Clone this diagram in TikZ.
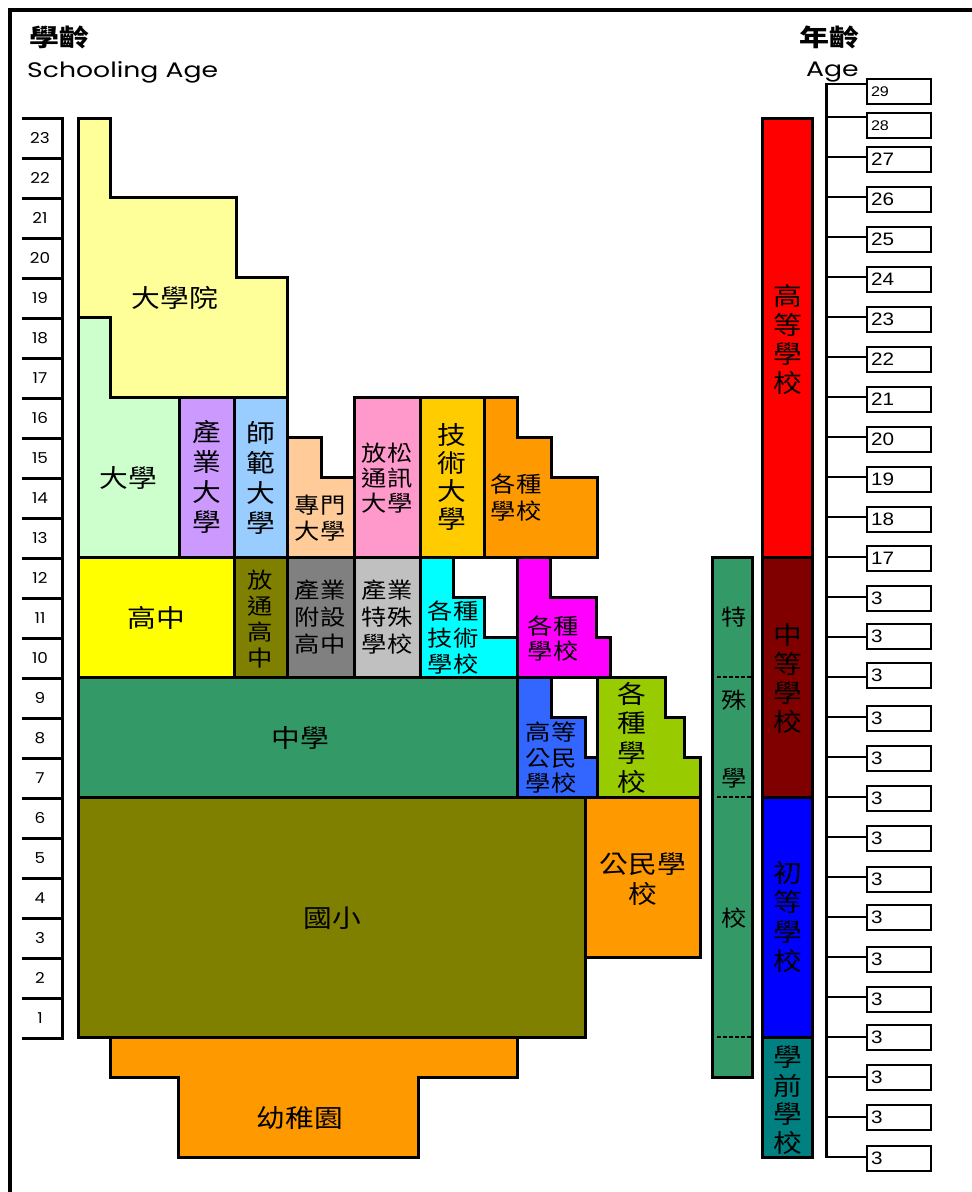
\documentclass[tikz,border=0pt]{standalone}
\usepackage{fontspec}
\setmainfont{Liberation Sans}
\newfontfamily\cjk[FakeStretch=1.15]{Noto Sans CJK TC}
\newfontfamily\cjkw[FakeStretch=1.25]{Noto Sans CJK TC}
\newfontfamily\pop[FakeStretch=1.12]{Poppins}
\newfontfamily\popw[FakeStretch=1.27]{Poppins}
\newfontfamily\ari[FakeStretch=1.15]{Liberation Sans}
\definecolor{cGrad}{HTML}{FFFF99}
\definecolor{cUni}{HTML}{CCFFCC}
\definecolor{cInd}{HTML}{CC99FF}
\definecolor{cNorm}{HTML}{99CCFF}
\definecolor{cPeach}{HTML}{FFCC99}
\definecolor{cPink}{HTML}{FF99CC}
\definecolor{cGold}{HTML}{FFCC00}
\definecolor{cOrange}{HTML}{FF9900}
\definecolor{cYellow}{HTML}{FFFF00}
\definecolor{cOlive}{HTML}{808000}
\definecolor{cGray}{HTML}{808080}
\definecolor{cSilver}{HTML}{C0C0C0}
\definecolor{cCyan}{HTML}{00FFFF}
\definecolor{cMag}{HTML}{FF00FF}
\definecolor{cSea}{HTML}{339966}
\definecolor{cRoyal}{HTML}{3366FF}
\definecolor{cLime}{HTML}{99CC00}
\definecolor{cRed}{HTML}{FF0000}
\definecolor{cMaroon}{HTML}{800000}
\definecolor{cBlue}{HTML}{0000FF}
\definecolor{cTeal}{HTML}{008080}
\tikzset{
  blk/.style={draw=black, line width=3pt, line join=miter},
  lbl/.style={font=\cjk\fontsize{25}{30}\selectfont, align=center, inner sep=0pt},
  lbls/.style={font=\cjk\fontsize{22}{26}\selectfont, align=center, inner sep=0pt},
  scl/.style={line width=3pt},
  lnum/.style={font=\pop\fontsize{15}{15}\selectfont, inner sep=0pt},
  agebox/.style={draw=black, line width=2pt, minimum width=64pt, minimum height=25pt,
    inner xsep=4pt, text width=56pt, align=left, anchor=west, fill=white},
  tck/.style={line width=2pt},
}
\begin{document}
\begin{tikzpicture}[x=1pt, y=-1pt]
\useasboundingbox (0,0) rectangle (972,1192);
% frame
\draw[line width=4pt] (9.5,1200) -- (9.5,9.5) -- (980,9.5);
% headers
\node[font=\cjkw\bfseries\fontsize{24}{24}\selectfont, inner sep=0pt] (hzh) at (60,37) {學齡};
\node[font=\popw\fontsize{21}{21}\selectfont, anchor=base west, inner sep=0pt] (hen) at (27,77) {Schooling Age};
\node[font=\cjkw\bfseries\fontsize{24}{24}\selectfont, inner sep=0pt] (azh) at (829,37) {年齡};
\node[font=\popw\fontsize{21}{21}\selectfont, anchor=base west, inner sep=0pt] (aen) at (806,76) {Age};
% left scale
\foreach \k in {0,...,23} \draw[scl] (22,{118+40*\k}) -- (63,{118+40*\k});
\draw[scl] (62,116.5) -- (62,1039.5);
\foreach \a in {1,...,23} \node[lnum] (L\a) at (40,{1058-40*\a}) {\a};
% blocks
\draw[blk, fill=cGrad] (78,118) -- (110,118) -- (110,197) -- (236,197) -- (236,277) -- (287,277) -- (287,397) -- (110,397) -- (110,317) -- (78,317) -- cycle;
\draw[blk, fill=cUni] (78,317) -- (110,317) -- (110,397) -- (179,397) -- (179,557) -- (78,557) -- cycle;
\draw[blk, fill=cInd] (179,397) rectangle (234,557);
\draw[blk, fill=cNorm] (234,397) rectangle (287,557);
\draw[blk, fill=cPeach] (287,437) -- (321,437) -- (321,477) -- (354,477) -- (354,557) -- (287,557) -- cycle;
\draw[blk, fill=cPink] (354,397) rectangle (420,557);
\draw[blk, fill=cGold] (420,397) rectangle (484,557);
\draw[blk, fill=cOrange] (484,397) -- (517,397) -- (517,437) -- (551,437) -- (551,477) -- (597,477) -- (597,557) -- (484,557) -- cycle;
\draw[blk, fill=cYellow] (78,557) rectangle (234,677);
\draw[blk, fill=cOlive] (234,557) rectangle (287,677);
\draw[blk, fill=cGray] (287,557) rectangle (354,677);
\draw[blk, fill=cSilver] (354,557) rectangle (420,677);
\draw[blk, fill=cCyan] (420,557) -- (453,557) -- (453,597) -- (484,597) -- (484,637) -- (517,637) -- (517,677) -- (420,677) -- cycle;
\draw[blk, fill=cMag] (517,557) -- (550,557) -- (550,597) -- (596,597) -- (596,637) -- (610,637) -- (610,677) -- (517,677) -- cycle;
\draw[blk, fill=cSea] (78,677) rectangle (517,797);
\draw[blk, fill=cRoyal] (517,677) -- (551,677) -- (551,717) -- (585,717) -- (585,757) -- (597,757) -- (597,797) -- (517,797) -- cycle;
\draw[blk, fill=cLime] (597,677) -- (665,677) -- (665,717) -- (684,717) -- (684,757) -- (700,757) -- (700,797) -- (597,797) -- cycle;
\draw[blk, fill=cOlive] (78,797) rectangle (585,1037);
\draw[blk, fill=cOrange] (585,797) rectangle (700,957);
\draw[blk, fill=cOrange] (110,1037) -- (517,1037) -- (517,1077) -- (418,1077) -- (418,1157) -- (178,1157) -- (178,1077) -- (110,1077) -- cycle;
% labels
\node[lbl] (tGrad) at (175,298) {大學院};
\node[lbl] (tUni) at (128,478) {大學};
\node[lbl] (tInd) at (206.5,477) {產\\業\\大\\學};
\node[lbl] (tNorm) at (260.5,478) {師\\範\\大\\學};
\node[lbls] (tJm) at (320,518) {專門\\大學};
\node[lbls, font=\cjk\fontsize{22}{25}\selectfont] (tOpen) at (387,478) {放松\\通訊\\大學};
\node[lbl, font=\cjk\fontsize{25}{28}\selectfont] (tTech) at (452,477) {技\\術\\大\\學};
\node[lbls, font=\cjk\fontsize{22}{27}\selectfont] (tMisc1) at (516,498) {各種\\學校};
\node[lbl] (tHs) at (156,618) {高中};
\node[lbls] (tOpenHs) at (260.5,619) {放\\通\\高\\中};
\node[lbls, font=\cjk\fontsize{22}{27}\selectfont] (tIndHs) at (320,617) {產業\\附設\\高中};
\node[lbls, font=\cjk\fontsize{22}{27}\selectfont] (tIndSp) at (387,617) {產業\\特殊\\學校};
\node[lbls, font=\cjk\fontsize{22}{26.5}\selectfont] (tTechS) at (453,638) {各種\\技術\\學校};
\node[lbls, font=\cjk\fontsize{22}{25}\selectfont] (tMisc2) at (553,639) {各種\\學校};
\node[lbl] (tMid) at (300,738) {中學};
\node[lbls, font=\cjk\fontsize{22}{25.5}\selectfont] (tCivHi) at (551,758) {高等\\公民\\學校};
\node[lbl, font=\cjk\fontsize{25}{29.5}\selectfont] (tMisc3) at (632,738) {各\\種\\學\\校};
\node[lbl] (tPri) at (332,918) {國小};
\node[lbl] (tCiv) at (643,879) {公民學\\校};
\node[lbl] (tKin) at (300,1118) {幼稚園};
% special school column
\draw[blk, fill=cSea] (712,557) rectangle (752,1077);
\foreach \y in {677,797,1037} \draw[line width=1.5pt, dash pattern=on 4pt off 2pt] (717,\y) -- (752,\y);
\node[lbls] (sp1) at (734,617) {特};
\node[lbls] (sp2) at (734,700) {殊};
\node[lbls] (sp3) at (734,778) {學};
\node[lbls] (sp4) at (734,918) {校};
% right column
\draw[blk, fill=cRed] (762,118) rectangle (812,557);
\draw[blk, fill=cMaroon] (762,557) rectangle (812,797);
\draw[blk, fill=cBlue] (762,797) rectangle (812,1037);
\draw[blk, fill=cTeal] (762,1037) rectangle (812,1157);
\node[lbl, font=\cjk\fontsize{25}{29}\selectfont] (cHi) at (788,339) {高\\等\\學\\校};
\node[lbl, font=\cjk\fontsize{25}{29}\selectfont] (cMid) at (788,679) {中\\等\\學\\校};
\node[lbl, font=\cjk\fontsize{25}{29.5}\selectfont] (cPri) at (788,917) {初\\等\\學\\校};
\node[lbl, font=\cjk\fontsize{25}{28.7}\selectfont] (cPre) at (788,1100) {學\\前\\學\\校};
% right age scale
\draw[line width=3pt] (826,83) -- (826,1158);
\foreach \t/\c/\n/\s [count=\i] in {84/91.5/29/14, 117/125.5/28/14, 157/159/27/18, 197/199/26/18,
  237/239/25/18, 277/279/24/18, 317/319/23/18, 357/359/22/18, 397/399/21/18, 437/439/20/18,
  477/479/19/18, 517/519/18/18, 557/558.5/17/18,
  597/598.5/3/18, 637/636/3/18, 677/675/3/18, 717/718/3/18, 757/758/3/18, 797/798/3/18,
  837/838/3/18, 877/879/3/18, 917/917/3/18, 957/959/3/18, 997/999/3/18, 1037/1037/3/18,
  1077/1077/3/18, 1117/1117/3/18, 1157/1158/3/18}
{
  \coordinate (sp\i) at (826,\t);
  \node[agebox, font=\ari\fontsize{\s}{\s}\selectfont] (b\i) at (866,\c) {\n};
  \draw[tck] (sp\i) -- (sp\i -| b\i.west);
}
\end{tikzpicture}
\end{document}
